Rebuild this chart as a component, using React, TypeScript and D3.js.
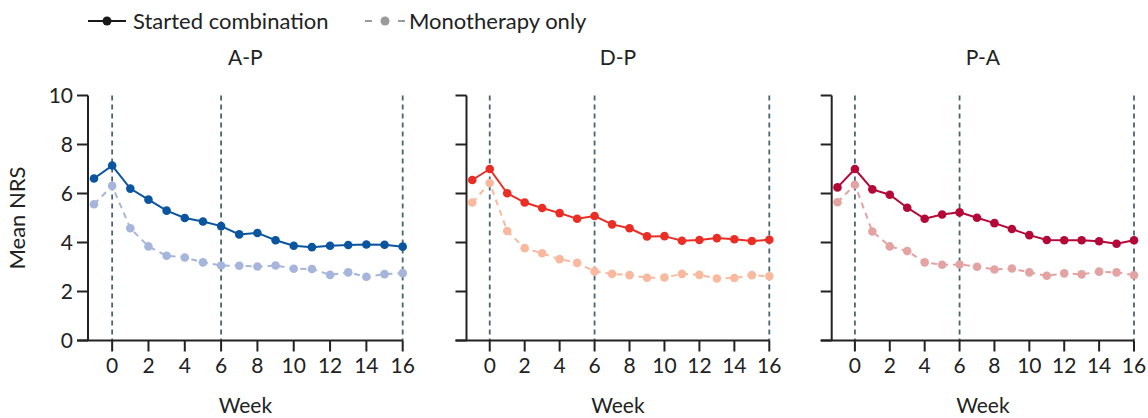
import * as d3 from "d3";

const WIDTH = 1148;
const HEIGHT = 418;
const FONT = "Lato, 'Open Sans', sans-serif";

const weeks = [-1, 0, 1, 2, 3, 4, 5, 6, 7, 8, 9, 10, 11, 12, 13, 14, 15, 16];
const xTicks = [0, 2, 4, 6, 8, 10, 12, 14, 16];
const yTicks = [0, 2, 4, 6, 8, 10];
const markerWeeks = [0, 6, 16];

const panelTitles = ["A-P", "D-P", "P-A"];

// started combination (solid)
const apCombo = [6.61, 7.14, 6.2, 5.75, 5.3, 5.0, 4.86, 4.67, 4.33, 4.39, 4.09, 3.87, 3.81, 3.87, 3.9, 3.92, 3.91, 3.83];
const dpCombo = [6.55, 7.0, 6.01, 5.63, 5.41, 5.2, 4.97, 5.08, 4.74, 4.58, 4.25, 4.26, 4.07, 4.1, 4.18, 4.13, 4.06, 4.11];
const paCombo = [6.25, 7.0, 6.17, 5.95, 5.42, 4.97, 5.14, 5.23, 5.01, 4.79, 4.55, 4.3, 4.1, 4.09, 4.09, 4.05, 3.95, 4.09];

// monotherapy only (dashed)
const apMono = [5.56, 6.31, 4.58, 3.84, 3.46, 3.39, 3.19, 3.06, 3.05, 3.02, 3.06, 2.93, 2.92, 2.68, 2.78, 2.6, 2.71, 2.75];
const dpMono = [5.63, 6.43, 4.47, 3.77, 3.56, 3.32, 3.17, 2.82, 2.72, 2.67, 2.56, 2.57, 2.72, 2.68, 2.53, 2.55, 2.67, 2.62];
const paMono = [5.64, 6.36, 4.45, 3.84, 3.65, 3.19, 3.09, 3.1, 3.01, 2.9, 2.94, 2.78, 2.64, 2.74, 2.7, 2.81, 2.78, 2.67];

const comboColors = ["#0b55a0", "#ea2e25", "#b30838"];
const monoColors = ["#a5b5db", "#f8b99e", "#e4a3a3"];

// layout of each panel's x range (px)
const panelRanges: [number, number][] = [
  [88, 402.7],
  [466.5, 769.3],
  [831.7, 1134],
];
const X_MIN = -1.33;
const TOP = 95.5;
const BOTTOM = 340.5;
const TICK = 11;
const FS = 21;

const yScale = d3.scaleLinear().domain([0, 10]).range([BOTTOM, TOP]);

const Panel = ({ idx, combo, mono }: { idx: number; combo: number[]; mono: number[] }) => {
  const x = d3.scaleLinear().domain([X_MIN, 16]).range(panelRanges[idx]);
  const line = d3
    .line<number>()
    .x((_, i) => x(weeks[i]))
    .y((d) => yScale(d));
  const x0 = x(X_MIN);
  const cx = (panelRanges[idx][0] + panelRanges[idx][1]) / 2;

  return (
    <g>
      <text x={cx} y={65} textAnchor="middle" fontSize={FS} fill="#222">
        {panelTitles[idx]}
      </text>

      {markerWeeks.map((w) => (
        <line
          key={w}
          x1={x(w)}
          x2={x(w)}
          y1={TOP}
          y2={BOTTOM}
          stroke="#4a6472"
          strokeWidth={1.8}
          strokeDasharray="5,4"
        />
      ))}

      {/* axes */}
      <line x1={x0} x2={x0} y1={TOP} y2={BOTTOM} stroke="#222" strokeWidth={2} />
      <line x1={x0 - TICK} x2={x(16)} y1={BOTTOM} y2={BOTTOM} stroke="#222" strokeWidth={2} />
      {yTicks.map((t) => (
        <g key={t}>
          <line x1={x0 - TICK} x2={x0} y1={yScale(t)} y2={yScale(t)} stroke="#222" strokeWidth={2} />
          {idx === 0 && (
            <text x={x0 - 15} y={yScale(t)} dy="0.36em" textAnchor="end" fontSize={FS} fill="#222">
              {t}
            </text>
          )}
        </g>
      ))}
      {xTicks.map((t) => (
        <g key={t}>
          <line x1={x(t)} x2={x(t)} y1={BOTTOM} y2={BOTTOM + TICK} stroke="#222" strokeWidth={2} />
          <text x={x(t)} y={373} textAnchor="middle" fontSize={FS} fill="#222">
            {t}
          </text>
        </g>
      ))}
      <text x={cx} y={413} textAnchor="middle" fontSize={FS} fill="#222">
        Week
      </text>

      {/* series */}
      <path d={line(mono) ?? ""} fill="none" stroke={monoColors[idx]} strokeWidth={2} strokeDasharray="6,5" />
      {mono.map((v, i) => (
        <circle key={i} cx={x(weeks[i])} cy={yScale(v)} r={4.3} fill={monoColors[idx]} />
      ))}
      <path d={line(combo) ?? ""} fill="none" stroke={comboColors[idx]} strokeWidth={2} />
      {combo.map((v, i) => (
        <circle key={i} cx={x(weeks[i])} cy={yScale(v)} r={4.3} fill={comboColors[idx]} />
      ))}
    </g>
  );
};

export default function App() {
  const combos = [apCombo, dpCombo, paCombo];
  const monos = [apMono, dpMono, paMono];
  return (
    <svg
      width={WIDTH}
      height={HEIGHT}
      style={{ position: "absolute", left: 0, top: 0, background: "#fff" }}
      fontFamily={FONT}
    >
      {/* legend */}
      <g>
        <line x1={88} x2={126} y1={21} y2={21} stroke="#1a1a1a" strokeWidth={2} />
        <circle cx={107} cy={21} r={4.5} fill="#1a1a1a" />
        <text x={133} y={21} dy="0.36em" fontSize={22} fill="#222">
          Started combination
        </text>
        <line x1={365} x2={405} y1={21} y2={21} stroke="#9a9a9a" strokeWidth={2} strokeDasharray="7,26" />
        <circle cx={385} cy={21} r={4.5} fill="#9a9a9a" />
        <text x={409} y={21} dy="0.36em" fontSize={22} fill="#222">
          Monotherapy only
        </text>
      </g>

      <text
        transform={`translate(25,${(TOP + BOTTOM) / 2}) rotate(-90)`}
        textAnchor="middle"
        fontSize={22}
        fill="#222"
      >
        Mean NRS
      </text>

      {combos.map((c, i) => (
        <Panel key={i} idx={i} combo={c} mono={monos[i]} />
      ))}
    </svg>
  );
}
